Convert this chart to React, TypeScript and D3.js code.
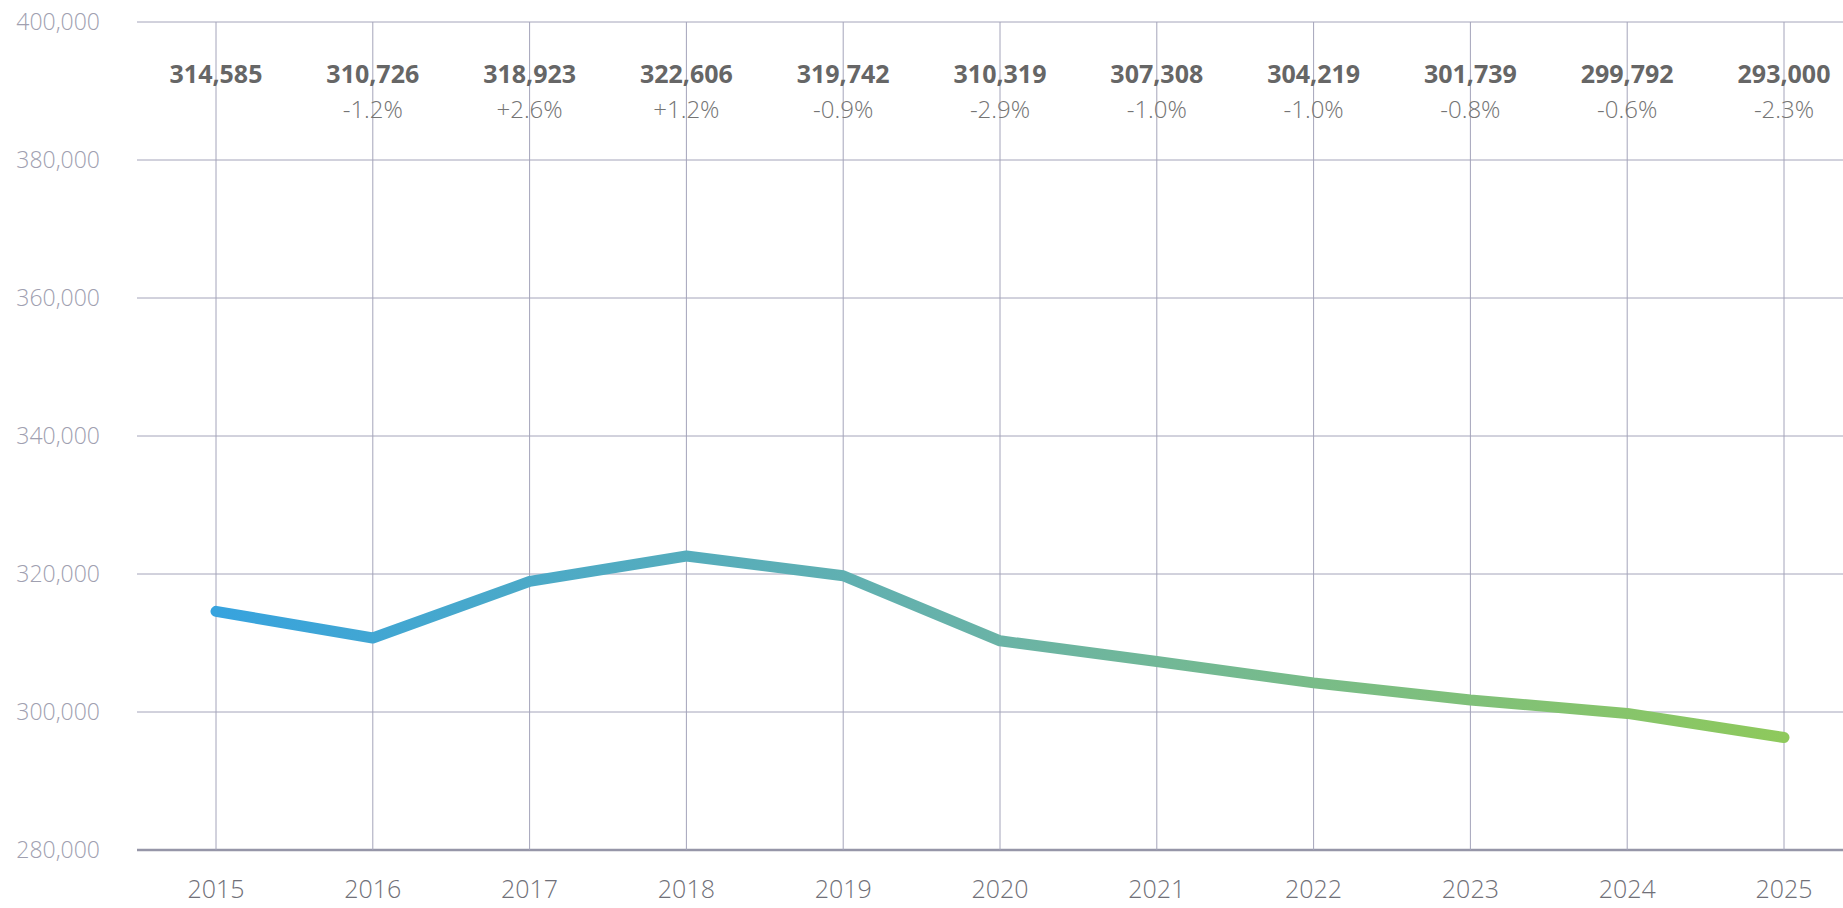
import React from 'react';
import * as d3 from 'd3';

const years = ['2015', '2016', '2017', '2018', '2019', '2020', '2021', '2022', '2023', '2024', '2025'];
// plotted line values
const values = [314585, 310726, 318923, 322606, 319742, 310319, 307308, 304219, 301739, 299792, 296300];
// labels printed above each year
const valueLabels = ['314,585', '310,726', '318,923', '322,606', '319,742', '310,319', '307,308', '304,219', '301,739', '299,792', '293,000'];
const changeLabels = ['', '-1.2%', '+2.6%', '+1.2%', '-0.9%', '-2.9%', '-1.0%', '-1.0%', '-0.8%', '-0.6%', '-2.3%'];
const yTicks = [280000, 300000, 320000, 340000, 360000, 380000, 400000];

const W = 1843;
const H = 908;
const FONT = '"Open Sans", "Noto Sans", sans-serif';

const App: React.FC = () => {
  const left = 137;
  const top = 22;
  const bottom = 850;

  const x = d3.scalePoint<string>().domain(years).range([216, 1784]);
  const y = d3.scaleLinear().domain([280000, 400000]).range([bottom, top]);

  const line = d3.line<number>()
    .x((_, i) => x(years[i]) || 0)
    .y(d => y(d));

  const fmt = d3.format(',');

  return (
    <svg width={W} height={H} style={{ position: 'absolute', left: 0, top: 0 }}>
      <defs>
        <linearGradient id="lineGrad" gradientUnits="userSpaceOnUse" x1={x(years[0])} x2={x(years[years.length - 1])} y1={0} y2={0}>
          <stop offset="0%" stopColor="#37a3de" />
          <stop offset="50%" stopColor="#6ab3a6" />
          <stop offset="100%" stopColor="#8ec95c" />
        </linearGradient>
      </defs>

      {/* horizontal gridlines */}
      {yTicks.map(t => (
        <line
          key={t}
          x1={left}
          x2={W}
          y1={y(t)}
          y2={y(t)}
          stroke={t === 280000 ? '#9696a8' : '#a4a4ba'}
          strokeWidth={t === 280000 ? 2.5 : 1}
        />
      ))}

      {/* vertical gridlines */}
      {years.map(yr => (
        <line key={yr} x1={x(yr)} x2={x(yr)} y1={top} y2={bottom} stroke="#a4a4ba" strokeWidth={1} />
      ))}

      {/* y axis labels */}
      {yTicks.map(t => (
        <text
          key={t}
          x={100}
          y={y(t)}
          dy="0.35em"
          textAnchor="end"
          fontFamily={FONT}
          fontWeight={300}
          fontSize={23}
          fill="#a0a0b0"
        >
          {fmt(t)}
        </text>
      ))}

      {/* x axis labels */}
      {years.map(yr => (
        <text
          key={yr}
          x={x(yr)}
          y={898}
          textAnchor="middle"
          fontFamily={FONT}
          fontWeight={300}
          fontSize={25}
          fill="#707078"
        >
          {yr}
        </text>
      ))}

      {/* value labels */}
      {years.map((yr, i) => (
        <g key={yr}>
          <text
            x={x(yr)}
            y={83}
            textAnchor="middle"
            fontFamily={FONT}
            fontWeight={700}
            fontSize={25}
            fill="#666"
          >
            {valueLabels[i]}
          </text>
          {changeLabels[i] && (
            <text
              x={x(yr)}
              y={118}
              textAnchor="middle"
              fontFamily={FONT}
              fontWeight={300}
              fontSize={24}
              fill="#747474"
            >
              {changeLabels[i]}
            </text>
          )}
        </g>
      ))}

      <path
        d={line(values) || ''}
        fill="none"
        stroke="url(#lineGrad)"
        strokeWidth={11}
        strokeLinecap="round"
        strokeLinejoin="round"
      />
    </svg>
  );
};

export default App;
